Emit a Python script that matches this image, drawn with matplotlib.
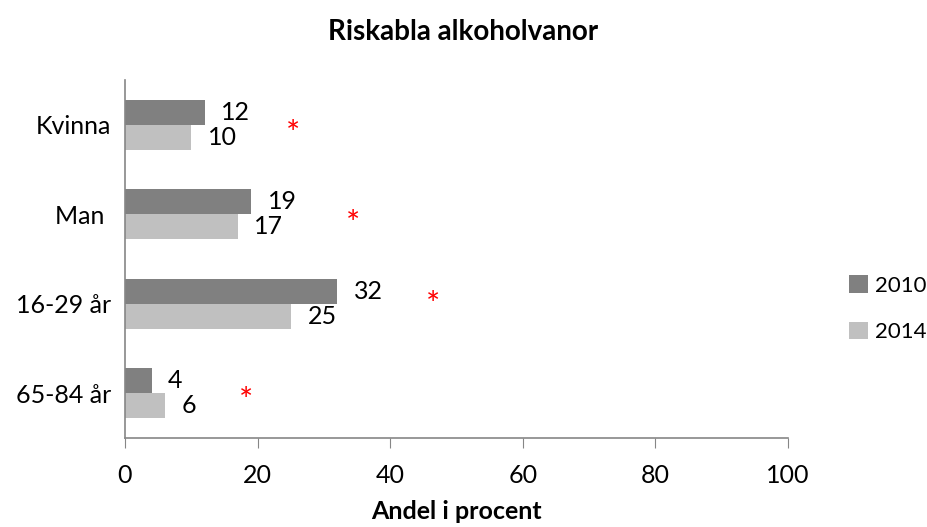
import numpy as np
import matplotlib.pyplot as plt

plt.rcParams['font.family'] = ['Lato', 'DejaVu Sans']

categories = ['Kvinna', 'Man ', '16-29 år', '65-84 år']
v2010 = [12, 19, 32, 4]
v2014 = [10, 17, 25, 6]
# red stars marking significant change
star_x = [25.3, 34.4, 46.5, 18.2]
star_dy = [0.12, 0.12, 0.02, 0.1]

fig = plt.figure(figsize=(9.27, 5.27), dpi=100)
ax = fig.add_axes([125/927, 1-438/527, 663/927, 358/527])

y = np.arange(len(categories))
h = 0.28
b1 = ax.barh(y - h/2, v2010, height=h, color='#808080', label='2010')
b2 = ax.barh(y + h/2, v2014, height=h, color='#c0c0c0', label='2014')
ax.bar_label(b1, padding=12, fontsize=18)
ax.bar_label(b2, padding=12, fontsize=18)

for i in range(len(categories)):
    ax.text(star_x[i], y[i] + star_dy[i], '*', color='red', fontsize=24,
            ha='center', va='center')

ax.set_ylim(3.5, -0.5)
ax.set_xlim(0, 100)
ax.set_xticks(range(0, 101, 20))
ax.set_yticks(y)
ax.set_yticklabels(categories, fontsize=18)
ax.tick_params(axis='y', length=0, pad=10)
ax.tick_params(axis='x', length=7, color='#868686', labelsize=18, pad=12)
for s in ['top', 'right']:
    ax.spines[s].set_visible(False)
for s in ['left', 'bottom']:
    ax.spines[s].set_color('#868686')
    ax.spines[s].set_linewidth(1.2)

ax.set_xlabel('Andel i procent', fontsize=18, fontweight='bold', labelpad=9)
fig.suptitle('Riskabla alkoholvanor', fontsize=20, fontweight='bold', y=0.963)

fig.legend(handles=[b1, b2], loc='center left', bbox_to_anchor=(849/927, 0.414),
           frameon=False, fontsize=16, handlelength=0.85, handleheight=0.85,
           labelspacing=1.15, handletextpad=0.3, borderpad=0, borderaxespad=0)

fig.savefig('out.png', dpi=100)
